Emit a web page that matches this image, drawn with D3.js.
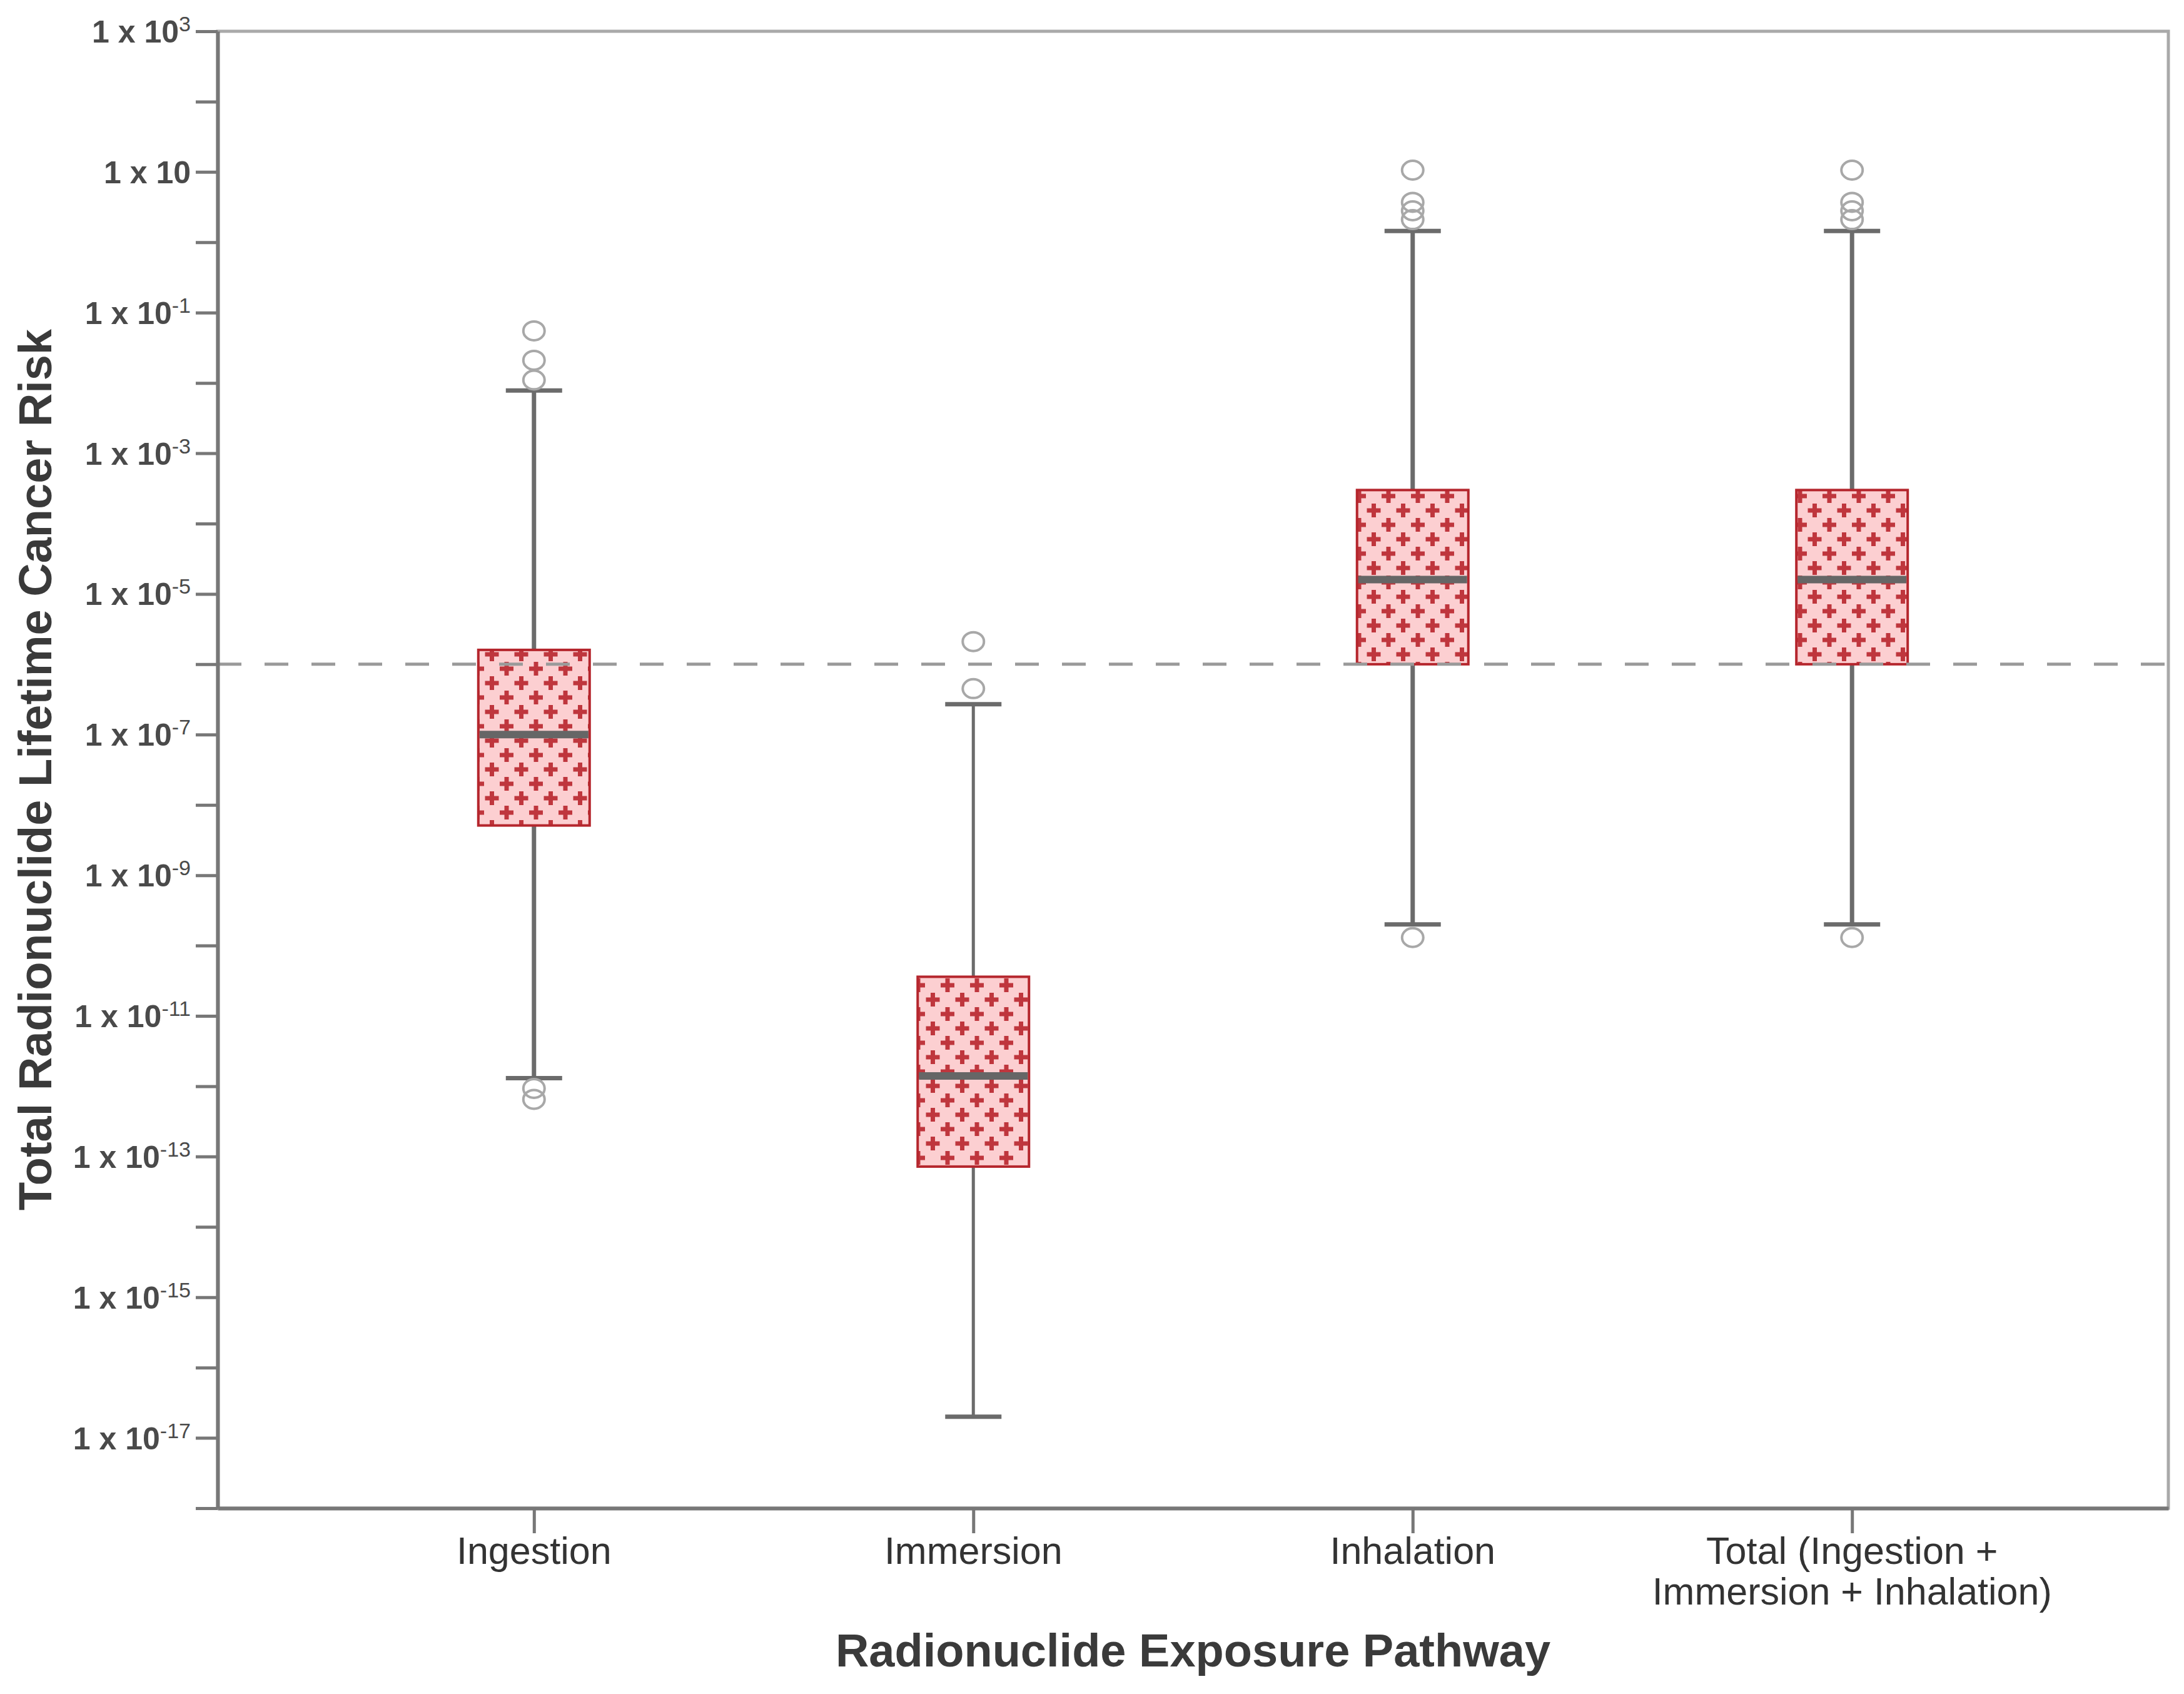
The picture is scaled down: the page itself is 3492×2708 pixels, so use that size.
<!DOCTYPE html>
<html>
<head>
<meta charset="utf-8">
<script src="https://cdn.jsdelivr.net/npm/d3@7"></script>
<style>
  html, body { margin: 0; padding: 0; background: #fff; }
  svg { display: block; font-family: "Liberation Sans", Arial, Helvetica, sans-serif; }
</style>
</head>
<body>
<div id="chart"></div>
<script>
// categories + label lines on the x axis
const categories = ["Ingestion", "Immersion", "Inhalation", "Total"];
const categoryLabels = [["Ingestion"], ["Immersion"], ["Inhalation"], ["Total (Ingestion +", "Immersion + Inhalation)"]];

// box plot summaries
const whiskerLow  = [1.3e-12, 2.0e-17, 2.0e-10, 2.0e-10];
const q1          = [5.1e-9,  7.2e-14, 1.0e-6,  1.0e-6];
const medians     = [1.0e-7,  1.4e-12, 1.6e-5,  1.6e-5];
const q3          = [1.6e-6,  3.6e-11, 3.0e-4,  3.0e-4];
const whiskerHigh = [7.8e-3,  2.7e-7,  1.45,    1.45];
const outliers = [
  [0.055, 0.021, 0.011, 9.3e-13, 6.5e-13],
  [2.1e-6, 4.5e-7],
  [10.6, 3.7, 2.8, 2.1, 1.3e-10],
  [10.6, 3.7, 2.8, 2.1, 1.3e-10]
];
const threshold = 1e-6;

// y ticks: every decade, labels on the odd exponents
const tickExponents = d3.range(3, -19, -1);
const labelExponents = [3, 1, -1, -3, -5, -7, -9, -11, -13, -15, -17];

const W = 3492, H = 2708;
const margin = { top: 50, right: 25, bottom: 297, left: 348 };

const svg = d3.select("#chart").append("svg")
    .attr("width", W)
    .attr("height", H)
    .attr("viewBox", `0 0 ${W} ${H}`);

// cross pattern for the boxes
const pat = svg.append("defs").append("pattern")
    .attr("id", "plus")
    .attr("patternUnits", "userSpaceOnUse")
    .attr("width", 47)
    .attr("height", 46);
pat.append("rect").attr("width", 47).attr("height", 46).attr("fill", "#fccfd1");
[[11, 11], [34.5, 34]].forEach(([cx, cy]) => {
  pat.append("rect").attr("x", cx - 11).attr("y", cy - 3.5).attr("width", 22).attr("height", 7).attr("fill", "#bf363d");
  pat.append("rect").attr("x", cx - 3.5).attr("y", cy - 11).attr("width", 7).attr("height", 22).attr("fill", "#bf363d");
});
// wrap half pluses across tile edges
[[34.5 - 47, 34], [34.5, 34 - 46]].forEach(([cx, cy]) => {
  pat.append("rect").attr("x", cx - 11).attr("y", cy - 3.5).attr("width", 22).attr("height", 7).attr("fill", "#bf363d");
  pat.append("rect").attr("x", cx - 3.5).attr("y", cy - 11).attr("width", 7).attr("height", 22).attr("fill", "#bf363d");
});

const x = d3.scalePoint()
    .domain(categories)
    .range([margin.left, W - margin.right])
    .padding(0.72);

const y = d3.scaleLog()
    .domain([1e-18, 1e3])
    .range([H - margin.bottom, margin.top]);

// frame (top + right are lighter)
svg.append("rect")
    .attr("x", margin.left)
    .attr("y", margin.top)
    .attr("width", W - margin.right - margin.left)
    .attr("height", H - margin.bottom - margin.top)
    .attr("fill", "none")
    .attr("stroke", "#a9a9a9")
    .attr("stroke-width", 5);

const boxW = 178, capW = 90;
const g = svg.append("g");

categories.forEach((c, i) => {
  const cx = x(c);
  // whiskers
  g.append("line")
      .attr("x1", cx).attr("x2", cx)
      .attr("y1", y(whiskerHigh[i])).attr("y2", y(whiskerLow[i]))
      .attr("stroke", "#6b6b6b")
      .attr("stroke-width", i === 1 ? 5 : 7);
  [whiskerHigh[i], whiskerLow[i]].forEach(v => {
    g.append("line")
        .attr("x1", cx - capW / 2).attr("x2", cx + capW / 2)
        .attr("y1", y(v)).attr("y2", y(v))
        .attr("stroke", "#6b6b6b")
        .attr("stroke-width", 7);
  });
  // box
  g.append("rect")
      .attr("x", cx - boxW / 2)
      .attr("y", y(q3[i]))
      .attr("width", boxW)
      .attr("height", y(q1[i]) - y(q3[i]))
      .attr("fill", "url(#plus)")
      .attr("stroke", "#b5262d")
      .attr("stroke-width", 4);
});

// threshold line
svg.append("line")
    .attr("x1", margin.left).attr("x2", W - margin.right)
    .attr("y1", y(threshold)).attr("y2", y(threshold))
    .attr("stroke", "#9a9a9a")
    .attr("stroke-width", 5)
    .attr("stroke-dasharray", "38,37");

categories.forEach((c, i) => {
  const cx = x(c);
  g.append("line")
      .attr("x1", cx - boxW / 2 + 2).attr("x2", cx + boxW / 2 - 2)
      .attr("y1", y(medians[i])).attr("y2", y(medians[i]))
      .attr("stroke", "#666")
      .attr("stroke-width", 12);
  g.selectAll(null)
      .data(outliers[i])
      .enter()
      .append("ellipse")
      .attr("cx", cx)
      .attr("cy", d => y(d))
      .attr("rx", 17)
      .attr("ry", 15)
      .attr("fill", "none")
      .attr("stroke", "#a8a8a8")
      .attr("stroke-width", 4);
});

// y axis
const yAxis = svg.append("g")
    .attr("transform", `translate(${margin.left},0)`)
    .call(d3.axisLeft(y).tickValues(tickExponents.map(e => Math.pow(10, e))).tickSize(35).tickSizeOuter(0).tickFormat(""));
yAxis.select(".domain").attr("stroke", "#777").attr("stroke-width", 6);
yAxis.selectAll(".tick line").attr("stroke", "#777").attr("stroke-width", 5);

const yLab = svg.append("g")
    .attr("font-size", 50)
    .attr("font-weight", "bold")
    .attr("fill", "#4a4a4a");
labelExponents.forEach(e => {
  const t = yLab.append("text")
      .attr("x", 305)
      .attr("y", y(Math.pow(10, e)) + 18)
      .attr("text-anchor", "end");
  t.append("tspan").text("1 x 10");
  if (e !== 1) {
    t.append("tspan")
        .attr("font-size", 34)
        .attr("font-weight", "normal")
        .attr("dy", -18)
        .text(e);
  }
});

// x axis
const xAxis = svg.append("g")
    .attr("transform", `translate(0,${H - margin.bottom})`)
    .call(d3.axisBottom(x).tickSize(40).tickSizeOuter(0).tickFormat(""));
xAxis.select(".domain").attr("stroke", "#777").attr("stroke-width", 6);
xAxis.selectAll(".tick line").attr("stroke", "#777").attr("stroke-width", 5);

categories.forEach((c, i) => {
  const t = svg.append("text")
      .attr("x", x(c))
      .attr("y", 2500)
      .attr("text-anchor", "middle")
      .attr("font-size", 61)
      .attr("fill", "#333");
  categoryLabels[i].forEach((line, j) => {
    t.append("tspan").attr("x", x(c)).attr("dy", j === 0 ? 0 : 65).text(line);
  });
});

// axis titles
svg.append("text")
    .attr("x", (margin.left + W - margin.right) / 2)
    .attr("y", 2664)
    .attr("text-anchor", "middle")
    .attr("font-size", 74)
    .attr("font-weight", "bold")
    .attr("fill", "#3a3a3a")
    .text("Radionuclide Exposure Pathway");

svg.append("text")
    .attr("transform", `translate(82,${(margin.top + H - margin.bottom) / 2}) rotate(-90)`)
    .attr("text-anchor", "middle")
    .attr("font-size", 74)
    .attr("font-weight", "bold")
    .attr("fill", "#3a3a3a")
    .text("Total Radionuclide Lifetime Cancer Risk");
</script>
</body>
</html>
